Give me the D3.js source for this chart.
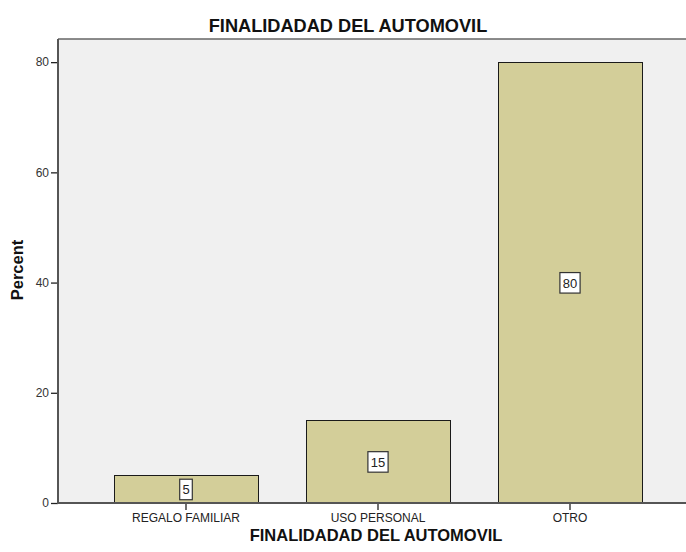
<!DOCTYPE html>
<html>
<head>
<meta charset="utf-8">
<script src="https://d3js.org/d3.v7.min.js"></script>
<style>
  body { margin: 0; background: #fff; }
  text { font-family: "Liberation Sans", Arial, sans-serif; }
</style>
</head>
<body>
<script>
var w = 686;
var h = 552;

var categories = ["REGALO FAMILIAR", "USO PERSONAL", "OTRO"];
var percents = [5, 15, 80];
var yTicks = [0, 20, 40, 60, 80];

var plotLeft = 58, plotTop = 39, plotBottom = 503, plotRight = 686;

var svg = d3.select("body")
    .append("svg")
        .attr("width", w)
        .attr("height", h);

var x = d3.scaleBand()
    .domain(categories)
    .range([90, 666])
    .paddingInner(0.25)
    .paddingOuter(0.125);

var y = d3.scaleLinear()
    .domain([0, 84.2])
    .range([plotBottom, plotTop]);

// plot background
svg.append("rect")
    .attr("x", plotLeft)
    .attr("y", plotTop)
    .attr("width", plotRight - plotLeft)
    .attr("height", plotBottom - plotTop)
    .attr("fill", "#f0f0f0");

svg.append("line")
    .attr("x1", plotLeft).attr("x2", plotRight)
    .attr("y1", plotTop).attr("y2", plotTop)
    .attr("stroke", "#666").attr("stroke-width", 1.5);

// bars
svg.selectAll("rect.bar")
    .data(percents)
    .enter()
    .append("rect")
        .attr("class", "bar")
        .attr("x", function(d, i) { return x(categories[i]) + 0.5; })
        .attr("y", function(d) { return Math.round(y(d)) + 0.5; })
        .attr("width", x.bandwidth())
        .attr("height", function(d) { return plotBottom - Math.round(y(d)); })
        .attr("fill", "#d3ce99")
        .attr("stroke", "#1a1a1a")
        .attr("stroke-width", 1);

// value labels
var labels = svg.selectAll("g.lab")
    .data(percents)
    .enter()
    .append("g")
        .attr("class", "lab")
        .attr("transform", function(d, i) {
            return "translate(" + (x(categories[i]) + x.bandwidth() / 2) + "," + y(d / 2) + ")";
        });

labels.append("rect")
    .attr("x", function(d) { return -(String(d).length * 3.8 + 2.5); })
    .attr("y", -10)
    .attr("width", function(d) { return String(d).length * 7.6 + 5; })
    .attr("height", 20.5)
    .attr("fill", "#fff")
    .attr("stroke", "#333")
    .attr("stroke-width", 1.2);

labels.append("text")
    .text(function(d) { return d; })
    .attr("text-anchor", "middle")
    .attr("y", 5)
    .attr("font-size", 13)
    .attr("fill", "#222");

// y axis
var yAxis = d3.axisLeft(y).tickValues(yTicks).tickSize(7).tickPadding(2);
var gy = svg.append("g")
    .attr("transform", "translate(" + plotLeft + ",0)")
    .call(yAxis);
gy.select(".domain").remove();
gy.selectAll(".tick line").attr("stroke", "#222").attr("stroke-width", 1.3);
gy.selectAll(".tick text").attr("font-size", 12).attr("fill", "#333")
    .attr("font-family", "Liberation Sans, Arial, sans-serif");

svg.append("line")
    .attr("x1", plotLeft).attr("x2", plotLeft)
    .attr("y1", plotTop).attr("y2", plotBottom)
    .attr("stroke", "#555").attr("stroke-width", 2);

// x axis
var xAxis = d3.axisBottom(x).tickSize(7).tickPadding(3);
var gx = svg.append("g")
    .attr("transform", "translate(0," + plotBottom + ")")
    .call(xAxis);
gx.select(".domain").remove();
gx.selectAll(".tick line").attr("stroke", "#222").attr("stroke-width", 1.3);
gx.selectAll(".tick text").attr("font-size", 12).attr("fill", "#222")
    .attr("font-family", "Liberation Sans, Arial, sans-serif");

svg.append("line")
    .attr("x1", plotLeft - 1).attr("x2", plotRight)
    .attr("y1", plotBottom).attr("y2", plotBottom)
    .attr("stroke", "#555").attr("stroke-width", 2);

// titles
svg.append("text")
    .text("FINALIDADAD DEL AUTOMOVIL")
    .attr("x", 348)
    .attr("y", 31.5)
    .attr("text-anchor", "middle")
    .attr("font-size", 18.2)
    .attr("font-weight", "bold")
    .attr("fill", "#111");

svg.append("text")
    .text("FINALIDADAD DEL AUTOMOVIL")
    .attr("x", 376)
    .attr("y", 541)
    .attr("text-anchor", "middle")
    .attr("font-size", 16.5)
    .attr("font-weight", "bold")
    .attr("fill", "#111");

svg.append("text")
    .text("Percent")
    .attr("transform", "translate(22.5,270) rotate(-90)")
    .attr("text-anchor", "middle")
    .attr("font-size", 16.5)
    .attr("font-weight", "bold")
    .attr("fill", "#111");
</script>
</body>
</html>
